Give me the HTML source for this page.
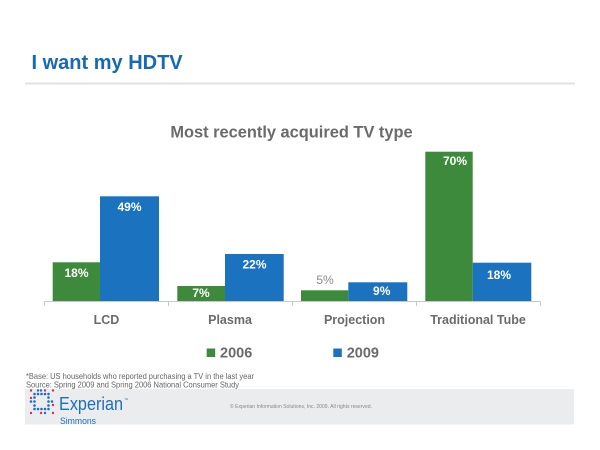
<!DOCTYPE html>
<html>
<head>
<meta charset="utf-8">
<style>
html,body{margin:0;padding:0;background:#fff;}
svg{display:block;}
text{font-family:"Liberation Sans",Arial,sans-serif;}
</style>
</head>
<body>
<svg width="600" height="450" viewBox="0 0 600 450" xmlns="http://www.w3.org/2000/svg">
  <rect x="0" y="0" width="600" height="450" fill="#fff"/>
  <!-- Title -->
  <text x="31.5" y="69" font-size="20" font-weight="bold" fill="#1769b5">I want my HDTV</text>
  <rect x="25" y="82.5" width="550" height="2" fill="#e2e2e4"/>

  <!-- Chart title -->
  <text x="291.5" y="137.3" font-size="16.4" font-weight="bold" fill="#6b6b6b" text-anchor="middle">Most recently acquired TV type</text>

  <!-- Bars -->
  <g>
    <rect x="52.7" y="262.3" width="47.3" height="38.9" fill="#3e8a3c"/>
    <rect x="100" y="196.3" width="59" height="104.9" fill="#1b72bf"/>
    <rect x="177.3" y="286" width="47.7" height="15.2" fill="#3e8a3c"/>
    <rect x="225" y="254" width="58.7" height="47.2" fill="#1b72bf"/>
    <rect x="301" y="290.3" width="47.3" height="10.9" fill="#3e8a3c"/>
    <rect x="348.3" y="282.3" width="59" height="18.9" fill="#1b72bf"/>
    <rect x="425.3" y="151.7" width="47.4" height="149.5" fill="#3e8a3c"/>
    <rect x="472.7" y="262.7" width="58.6" height="38.5" fill="#1b72bf"/>
  </g>

  <!-- Axis -->
  <g stroke="#c8c8c8" stroke-width="1">
    <line x1="44" y1="301.5" x2="540.5" y2="301.5"/>
    <line x1="44.5" y1="301.5" x2="44.5" y2="306"/>
    <line x1="168.5" y1="301.5" x2="168.5" y2="306"/>
    <line x1="292.5" y1="301.5" x2="292.5" y2="306"/>
    <line x1="416.5" y1="301.5" x2="416.5" y2="306"/>
    <line x1="540.5" y1="301.5" x2="540.5" y2="306"/>
  </g>

  <!-- Bar labels -->
  <g font-size="12" font-weight="bold" fill="#ffffff" text-anchor="middle">
    <text x="76.5" y="277">18%</text>
    <text x="129.5" y="211">49%</text>
    <text x="201" y="297">7%</text>
    <text x="254.5" y="268.7">22%</text>
    <text x="381.7" y="295">9%</text>
    <text x="455" y="165">70%</text>
    <text x="499" y="279">18%</text>
  </g>
  <text x="325" y="284" font-size="12" fill="#8a8a8a" text-anchor="middle">5%</text>

  <!-- Category labels -->
  <g font-size="12.5" font-weight="bold" fill="#6b6b6b" text-anchor="middle">
    <text x="106.5" y="324">LCD</text>
    <text x="230" y="324">Plasma</text>
    <text x="354.5" y="324">Projection</text>
    <text x="478" y="324">Traditional Tube</text>
  </g>

  <!-- Legend -->
  <rect x="206.7" y="348.5" width="8.5" height="8.5" fill="#3e8a3c"/>
  <text x="220" y="357.5" font-size="14.5" font-weight="bold" fill="#6b6b6b">2006</text>
  <rect x="333.3" y="348.5" width="8.5" height="8.5" fill="#1b72bf"/>
  <text x="346.7" y="357.5" font-size="14.5" font-weight="bold" fill="#6b6b6b">2009</text>

  <!-- Footnotes -->
  <g font-size="8" fill="#666">
    <text x="26" y="379" textLength="228" lengthAdjust="spacingAndGlyphs">*Base: US households who reported purchasing a TV in the last year</text>
    <text x="26" y="387.3" textLength="213" lengthAdjust="spacingAndGlyphs">Source: Spring 2009 and Spring 2006 National Consumer Study</text>
  </g>

  <!-- Footer band -->
  <rect x="25" y="389" width="549" height="35.5" fill="#ebecee"/>

  <!-- Logo dots -->
  <g>
    <g fill="#e0294a">
      <circle cx="31" cy="390.5" r="1.2"/>
      <circle cx="45" cy="390.5" r="1.2"/>
      <circle cx="53" cy="390.5" r="1.2"/>
      <circle cx="31" cy="413" r="1.2"/>
      <circle cx="41" cy="413" r="1.2"/>
      <circle cx="53" cy="413" r="1.2"/>
      <circle cx="31" cy="398" r="1.2"/>
      <circle cx="53" cy="405" r="1.2"/>
    </g>
    <g fill="#1b6fc0">
      <circle cx="38" cy="390.5" r="1.2"/>
      <circle cx="41" cy="390.5" r="1.2"/>
      <circle cx="34.5" cy="394" r="1.3"/>
      <circle cx="38" cy="394" r="1.3"/>
      <circle cx="41.5" cy="394" r="1.3"/>
      <circle cx="45" cy="394" r="1.3"/>
      <circle cx="48.5" cy="394" r="1.3"/>
      <circle cx="34.5" cy="397.5" r="1.3"/>
      <circle cx="48.5" cy="397.5" r="1.3"/>
      <circle cx="31" cy="401.5" r="1.3"/>
      <circle cx="34.5" cy="401.5" r="1.3"/>
      <circle cx="48.5" cy="401.5" r="1.3"/>
      <circle cx="52" cy="401.5" r="1.3"/>
      <circle cx="34.5" cy="405.5" r="1.3"/>
      <circle cx="48.5" cy="405.5" r="1.3"/>
      <circle cx="34.5" cy="409" r="1.3"/>
      <circle cx="38" cy="409" r="1.3"/>
      <circle cx="41.5" cy="409" r="1.3"/>
      <circle cx="45" cy="409" r="1.3"/>
      <circle cx="48.5" cy="409" r="1.3"/>
      <circle cx="45" cy="413" r="1.2"/>
    </g>
  </g>
  <text x="59" y="410" font-size="18.5" fill="#1b6fc0" textLength="64" lengthAdjust="spacingAndGlyphs">Experian</text>
  <text x="124" y="401" font-size="4" fill="#1b6fc0">™</text>
  <text x="60" y="424" font-size="9" fill="#1b6fc0" textLength="36" lengthAdjust="spacingAndGlyphs">Simmons</text>

  <text x="230" y="408" font-size="5.2" fill="#888" textLength="142" lengthAdjust="spacingAndGlyphs">© Experian Information Solutions, Inc. 2009.  All rights reserved.</text>
</svg>
</body>
</html>
